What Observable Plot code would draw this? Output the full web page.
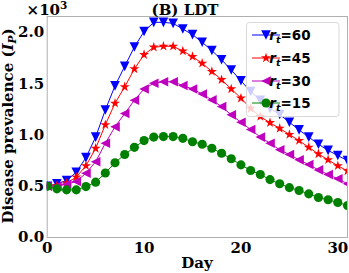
<!DOCTYPE html>
<html><head><meta charset="utf-8">
<script src="https://cdn.jsdelivr.net/npm/d3@7"></script>
<script src="https://cdn.jsdelivr.net/npm/@observablehq/plot@0.6"></script>
<style>body{margin:0;background:#fff}</style></head>
<body><div id="chart"></div>
<script>
const days = d3.range(0, 32);
const xTicks = [0, 10, 20, 30];
const yTicks = [0, 0.5, 1.0, 1.5, 2.0];
const labels = ["60", "45", "30", "15"];
const colors = ["#0000ff", "#ff0000", "#bf00bf", "#008000"];
const r60 = [0.50,0.524,0.556,0.637,0.78,0.98,1.245,1.48,1.67,1.86,2.01,2.10,2.10,2.09,2.035,1.98,1.905,1.825,1.735,1.635,1.53,1.425,1.34,1.26,1.2,1.125,1.05,0.98,0.91,0.85,0.80,0.75];
const r45 = [0.50,0.507,0.53,0.59,0.70,0.87,1.10,1.31,1.47,1.645,1.785,1.857,1.866,1.866,1.82,1.766,1.70,1.62,1.54,1.45,1.36,1.26,1.18,1.12,1.065,1.005,0.946,0.88,0.816,0.758,0.70,0.65];
const r30 = [0.50,0.50,0.52,0.546,0.627,0.74,0.92,1.08,1.21,1.34,1.45,1.505,1.52,1.52,1.483,1.45,1.40,1.343,1.278,1.197,1.125,1.054,0.98,0.92,0.856,0.81,0.758,0.712,0.66,0.615,0.573,0.524];
const r15 = [0.50,0.475,0.465,0.465,0.497,0.54,0.63,0.73,0.81,0.88,0.946,0.98,0.985,0.985,0.968,0.935,0.91,0.871,0.822,0.768,0.709,0.654,0.615,0.565,0.524,0.487,0.459,0.426,0.39,0.368,0.342,0.312];
const seriesValues = [r60, r45, r30, r15];

// marker shapes (matplotlib-like)
const triDown = {draw(ctx, size){const h=Math.sqrt(size/Math.PI); ctx.moveTo(-h,-h); ctx.lineTo(h,-h); ctx.lineTo(0,h); ctx.closePath();}};
const triLeft = {draw(ctx, size){const h=Math.sqrt(size/Math.PI); ctx.moveTo(-h,0); ctx.lineTo(h,-h); ctx.lineTo(h,h); ctx.closePath();}};
const star = {draw(ctx, size){const h=Math.sqrt(size/Math.PI)*1.1, k=0.381966*h;
  for(let i=0;i<10;i++){const a=-Math.PI/2+i*Math.PI/5, rr=i%2?k:h; const px=rr*Math.cos(a), py=rr*Math.sin(a); i?ctx.lineTo(px,py):ctx.moveTo(px,py);} ctx.closePath();}};
const circ = {draw(ctx, size){const h=Math.sqrt(size/Math.PI)*0.95; ctx.moveTo(h,0); ctx.arc(0,0,h,0,2*Math.PI);}};
const symbols = [triDown, star, triLeft, circ];

const series = seriesValues.map((vals, i) => vals.map((v, j) => ({day: days[j], v, s: labels[i]})));

const marks = [Plot.frame({stroke: "#b0b0b0", strokeWidth: 1})];
series.forEach((d, i) => {
  marks.push(Plot.line(d, {x: "day", y: "v", stroke: colors[i], strokeWidth: 1, clip: true}));
  marks.push(Plot.dot(d, {x: "day", y: "v", symbol: symbols[i], r: 4.8, fill: colors[i], stroke: "none", clip: true}));
});
marks.push(Plot.axisX({ticks: xTicks, tickSize: 0, tickPadding: 5, label: null, tickFormat: d => d}));
marks.push(Plot.axisY({ticks: yTicks, tickSize: 0, tickPadding: 3, label: null, tickFormat: d => d.toFixed(1)}));

const chart = Plot.plot({
  width: 349, height: 273,
  marginLeft: 46.7, marginRight: 2, marginTop: 16, marginBottom: 36,
  x: {domain: [0, 31]},
  y: {domain: [0, 2.157]},
  style: "font-family:'DejaVu Serif';font-size:15px;font-weight:bold;background:#fff;overflow:visible;color:#000",
  marks
});
document.getElementById("chart").append(chart);

const svg = d3.select(chart);
// title
svg.append("text").attr("x", 185).attr("y", 15).attr("text-anchor", "middle")
  .style("font-family", "'DejaVu Serif'").style("font-weight", "bold").style("font-size", "15px").text("(B) LDT");
// offset text
const off = svg.append("text").attr("x", 47).attr("y", 15)
  .style("font-family", "'DejaVu Serif'").style("font-weight", "bold").style("font-size", "15px");
off.append("tspan").text("×10");
off.append("tspan").attr("dy", -6).style("font-size", "10.5px").text("3");
// x label
svg.append("text").attr("x", 197).attr("y", 268).attr("text-anchor", "middle")
  .style("font-family", "'DejaVu Serif'").style("font-weight", "bold").style("font-size", "15px").text("Day");
// y label
const yl = svg.append("text").attr("transform", "translate(12.5,126) rotate(-90)").attr("text-anchor", "middle")
  .style("font-family", "'DejaVu Serif'").style("font-weight", "bold").style("font-size", "15px");
yl.append("tspan").text("Disease prevalence (");
yl.append("tspan").style("font-style", "italic").text("I");
yl.append("tspan").attr("dy", 3).style("font-size", "10.5px").style("font-style", "italic").text("P");
yl.append("tspan").attr("dy", -3).text(")");

// legend
const lg = svg.append("g");
lg.append("rect").attr("x", 246.5).attr("y", 22.5).attr("width", 92.5).attr("height", 94).attr("rx", 3)
  .attr("fill", "#fff").attr("fill-opacity", 0.8).attr("stroke", "#d9d9d9");
const ly = [35, 58, 81, 103];
labels.forEach((lab, i) => {
  lg.append("line").attr("x1", 252).attr("x2", 280).attr("y1", ly[i]).attr("y2", ly[i]).attr("stroke", colors[i]).attr("stroke-width", 1);
  lg.append("path").attr("transform", `translate(266,${ly[i]})`).attr("d", d3.symbol(symbols[i], Math.PI * 4.8 * 4.8)()).attr("fill", colors[i]);
  const t = lg.append("text").attr("x", 290).attr("y", ly[i] + 5)
    .style("font-family", "'DejaVu Sans'").style("font-weight", "bold").style("font-size", "13.5px");
  t.append("tspan").style("font-style", "italic").text("r");
  t.append("tspan").attr("dy", 3).style("font-style", "italic").style("font-size", "9.5px").text("t");
  t.append("tspan").attr("dy", -3).text("=" + lab);
});
</script></body></html>
